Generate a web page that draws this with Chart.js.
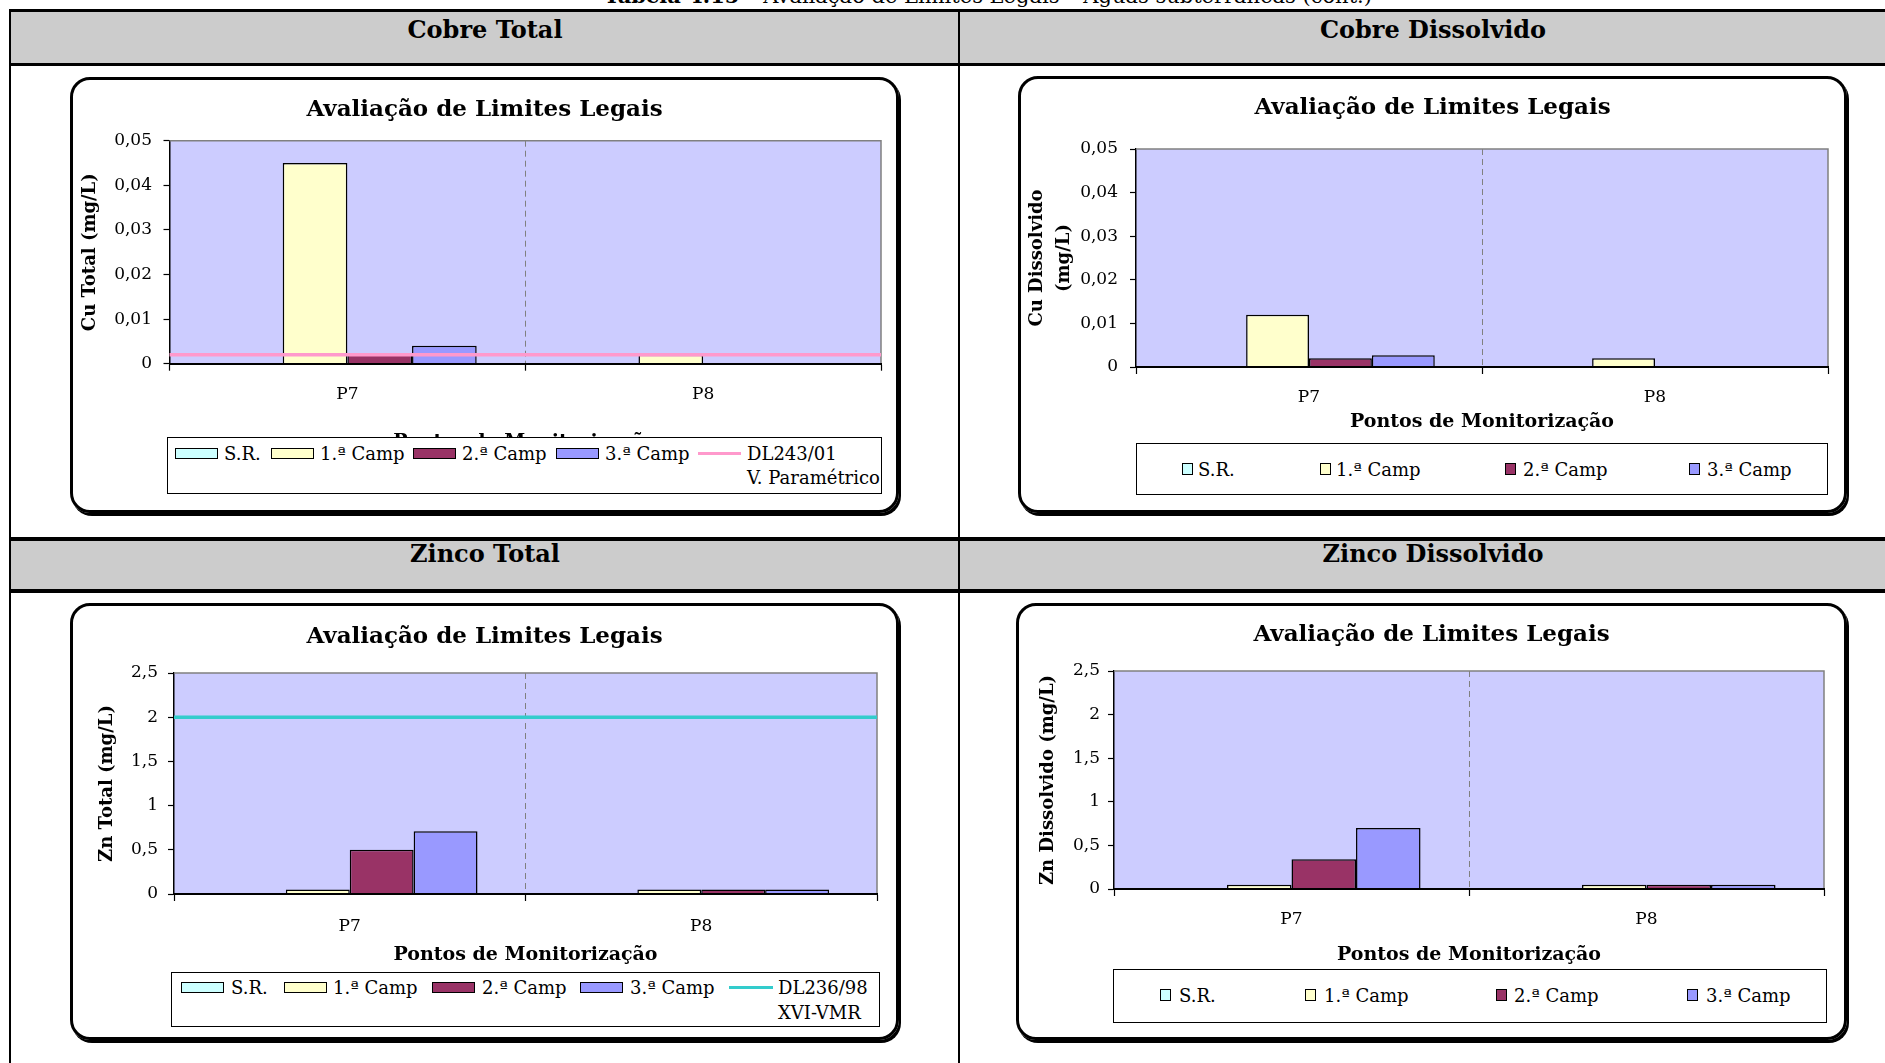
<!DOCTYPE html>
<html>
<head>
<meta charset="utf-8">
<script src="https://cdn.jsdelivr.net/npm/chart.js@4/dist/chart.umd.min.js"></script>
<style>
html,body{margin:0;padding:0;background:#fff;}
body{width:1885px;height:1063px;overflow:hidden;position:relative;font-family:"DejaVu Serif",serif;color:#000;}
.r{position:absolute;}
.blk{position:absolute;background:#000;}
.band{position:absolute;background:#cccccc;}
.hdr{position:absolute;font-weight:bold;font-size:24px;line-height:29px;white-space:nowrap;transform:translateX(-50%);}
.box{position:absolute;border:3px solid #000;border-radius:20px;box-shadow:2px 3px 0 #000;box-sizing:border-box;z-index:5;}
.legend{position:absolute;background:#fff;border:1px solid #000;box-sizing:border-box;font-size:18px;line-height:21px;z-index:4;overflow:hidden;}
.legend span{position:absolute;white-space:nowrap;}
.sw{position:absolute;box-sizing:border-box;border:1.5px solid #000;}
canvas{position:absolute;z-index:3;}
</style>
</head>
<body>
<div class="r" style="left:988px;top:-17px;transform:translateX(-50%);font-size:21px;line-height:25px;white-space:nowrap;"><b>Tabela 4.15</b> – Avaliação de Limites Legais – Águas subterrâneas (cont.)</div>

<!-- table -->
<div class="band" style="left:10px;top:12px;width:1875px;height:51px;"></div>
<div class="band" style="left:10px;top:541px;width:1875px;height:48px;"></div>
<div class="blk" style="left:9px;top:9px;width:1876px;height:3px;"></div>
<div class="blk" style="left:9px;top:63px;width:1876px;height:3px;"></div>
<div class="blk" style="left:9px;top:537px;width:1876px;height:4px;"></div>
<div class="blk" style="left:9px;top:589px;width:1876px;height:4px;"></div>
<div class="blk" style="left:9px;top:9px;width:2px;height:1054px;"></div>
<div class="blk" style="left:958px;top:9px;width:2px;height:1054px;"></div>

<div class="hdr" style="left:485px;top:15px;">Cobre Total</div>
<div class="hdr" style="left:1433px;top:15px;">Cobre Dissolvido</div>
<div class="hdr" style="left:485px;top:539px;">Zinco Total</div>
<div class="hdr" style="left:1433px;top:539px;">Zinco Dissolvido</div>

<script>
// ---------------- DATA ----------------
const categories = ['P7', 'P8'];
const seriesLabels = ['S.R.', '1.ª Camp', '2.ª Camp', '3.ª Camp'];

const cuTotalSR    = [null, null];
const cuTotalCamp1 = [0.045, 0.002];
const cuTotalCamp2 = [0.0023, null];
const cuTotalCamp3 = [0.004, null];
const cuTotalLimitValue = 0.002;
const cuTotalLimitLabel = ['DL243/01', 'V. Paramétrico'];

const cuDissSR    = [null, null];
const cuDissCamp1 = [0.012, 0.002];
const cuDissCamp2 = [0.002, null];
const cuDissCamp3 = [0.0027, null];

const znTotalSR    = [null, null];
const znTotalCamp1 = [0.05, 0.05];
const znTotalCamp2 = [0.5, 0.05];
const znTotalCamp3 = [0.71, 0.05];
const znTotalLimitValue = 2;
const znTotalLimitLabel = ['DL236/98', 'XVI-VMR'];

const znDissSR    = [null, null];
const znDissCamp1 = [0.05, 0.05];
const znDissCamp2 = [0.34, 0.05];
const znDissCamp3 = [0.70, 0.05];

const cuTickValues = [0, 0.01, 0.02, 0.03, 0.04, 0.05];
const znTickValues = [0, 0.5, 1, 1.5, 2, 2.5];

const chartTitle = 'Avaliação de Limites Legais';
const xAxisTitle = 'Pontos de Monitorização';

// ---------------- STYLE / LAYOUT ----------------
const seriesColors = ['#CCFFFF', '#FFFFCC', '#993366', '#9999FF'];
const FONT = 'DejaVu Serif';
Chart.defaults.font.family = FONT;
Chart.defaults.color = '#000';

const layouts = {
  cuTotal: {box:[70,77,899,513], plot:[169.5,140.7,881,363.7], titleY:110, yTitleX:90, yTitleLH:21.6, yLabelRight:152, xLabelY:395, xTitleY:442,
    legend:{rect:[167,437,882,494], rows:[452.5,476], swX:[174,270,412,555], txX:[223,319,461,604], wide:true, lineX:[697,740], lineTx:746}},
  cuDiss: {box:[1018,76,1847,513], plot:[1136,149,1828,367], titleY:108, yTitleX:1037, yTitleLH:27, yLabelRight:1118, xLabelY:398, xTitleY:422,
    legend:{rect:[1136,443,1828,495], rows:[468], swX:[1181,1319,1504,1688], txX:[1197,1335,1522,1706], wide:false}},
  znTotal: {box:[70,603,899,1040], plot:[174,673,877,894], titleY:637, yTitleX:107, yTitleLH:21.6, yLabelRight:158, xLabelY:927, xTitleY:955,
    legend:{rect:[171,972,880,1027], rows:[986.5,1011], swX:[180,283,431,579], txX:[230,332,481,629], wide:true, lineX:[728,772], lineTx:777}},
  znDiss: {box:[1016,603,1847,1040], plot:[1114,671,1824,889], titleY:635, yTitleX:1048, yTitleLH:21.6, yLabelRight:1100, xLabelY:920, xTitleY:955,
    legend:{rect:[1113,969,1827,1023], rows:[994], swX:[1159,1304,1495,1686], txX:[1178,1323,1513,1705], wide:false}}
};

const plotDeco = {
  id: 'plotDeco',
  beforeDraw(chart) {
    const {ctx, chartArea: a} = chart;
    ctx.save();
    ctx.fillStyle = '#CCCCFF';
    ctx.fillRect(a.left, a.top, a.right - a.left, a.bottom - a.top);
    ctx.restore();
  },
  beforeDatasetsDraw(chart) {
    const {ctx, chartArea: a} = chart;
    ctx.save();
    ctx.strokeStyle = '#808080';
    ctx.lineWidth = 1.5;
    ctx.beginPath();
    ctx.moveTo(a.left, a.top);
    ctx.lineTo(a.right, a.top);
    ctx.lineTo(a.right, a.bottom);
    ctx.stroke();
    ctx.restore();
  }
};

// horizontal legal-limit line placed with the chart's own y scale
const limitLine = {
  id: 'limitLine',
  afterDatasetsDraw(chart, args, opts) {
    if (opts == null || opts.value == null) return;
    const {ctx, chartArea: a} = chart;
    const y = chart.scales.y.getPixelForValue(opts.value);
    ctx.save();
    ctx.strokeStyle = opts.color;
    ctx.lineWidth = 3.5;
    ctx.beginPath();
    ctx.moveTo(a.left, y);
    ctx.lineTo(a.right, y);
    ctx.stroke();
    ctx.restore();
  }
};

function fmt(v) { return String(+Number(v).toFixed(4)).replace('.', ','); }

function buildChart(L, spec) {
  const [bx0, by0, bx1, by1] = L.box;
  const W = bx1 - bx0, H = by1 - by0;
  const [px0, py0, px1, py1] = L.plot;
  const cv = document.createElement('canvas');
  cv.width = W; cv.height = H;
  cv.style.left = bx0 + 'px'; cv.style.top = by0 + 'px';
  cv.style.width = W + 'px'; cv.style.height = H + 'px';
  document.body.appendChild(cv);

  const padRight = bx1 - px1;
  const padLeft = padRight;               // symmetric so the title is centred on the frame
  const titleSize = 23, titleLH = titleSize * 1.2;
  const titlePadTop = L.titleY - by0 - titleLH / 2;
  const titlePadBottom = (py0 - by0) - titlePadTop - titleLH;
  const yTitlePad = L.yTitleX - (bx0 + padLeft) - L.yTitleLH / 2;
  const yWidth = px0 - bx0 - padLeft;
  const tickSize = 17, tickLH = tickSize * 1.2;
  const xTickLen = 7, yTickLen = 6;
  const xTickPad = (L.xLabelY - py1) - xTickLen - tickLH / 2;
  const yTickPad = (px0 - L.yLabelRight) - yTickLen;
  const xTitleSize = 19, xTitleLH = xTitleSize * 1.2;
  const axisBottom = L.xTitleY - by0 + xTitleLH / 2;
  const xHeight = axisBottom - (py1 - by0);
  const padBottom = H - axisBottom;

  const datasets = spec.bars.map((vals, i) => ({
    type: 'bar', label: seriesLabels[i], data: vals,
    backgroundColor: seriesColors[i], borderColor: '#000', borderWidth: 1.5,
    categoryPercentage: 0.727, barPercentage: 1
  }));
  const scales = {
    x: {
      type: 'category', offset: true,
      grid: {offset: true, drawOnChartArea: true, color: c => c.index === 1 ? '#808080' : 'rgba(0,0,0,0)',
             lineWidth: 1, tickColor: '#000', tickLength: xTickLen, tickWidth: 1.2, tickBorderDash: []},
      border: {display: true, color: '#000', width: 2, dash: [6, 4], z: 1},
      ticks: {font: {size: tickSize}, padding: xTickPad, color: '#000', maxRotation: 0},
      title: {display: true, text: xAxisTitle, font: {size: xTitleSize, weight: 'bold'}, padding: {top: 0, bottom: 0}, color: '#000'},
      afterFit: s => { s.height = xHeight; }
    },
    y: {
      min: 0, max: spec.ticks[spec.ticks.length - 1],
      grid: {drawOnChartArea: false, drawTicks: true, tickLength: yTickLen, tickColor: '#000', tickWidth: 1.2},
      border: {display: true, color: '#000', width: 1.5},
      afterBuildTicks: s => { s.ticks = spec.ticks.map(v => ({value: v})); },
      ticks: {font: {size: tickSize}, padding: yTickPad, color: '#000', callback: v => fmt(v)},
      title: {display: true, text: spec.yTitle, font: {size: 18, weight: 'bold', lineHeight: L.yTitleLH / 18},
              padding: {top: yTitlePad, bottom: 0}, color: '#000'},
      afterFit: s => { s.width = yWidth; }
    }
  };

  new Chart(cv.getContext('2d'), {
    type: 'bar',
    data: {labels: categories, datasets},
    options: {
      responsive: false, animation: false, devicePixelRatio: 1,
      layout: {padding: {left: padLeft, top: 0, right: padRight, bottom: padBottom}},
      plugins: {
        legend: {display: false}, tooltip: {enabled: false},
        title: {display: true, text: chartTitle, color: '#000',
                font: {size: titleSize, weight: 'bold', lineHeight: 1.2},
                padding: {top: titlePadTop, bottom: titlePadBottom}},
        limitLine: spec.limit ? {value: spec.limit.value, color: spec.limit.color} : {value: null}
      },
      scales
    },
    plugins: [plotDeco, limitLine]
  });

  // framed rounded box
  const bx = document.createElement('div');
  bx.className = 'box';
  bx.style.cssText = `left:${bx0}px;top:${by0}px;width:${W}px;height:${H}px;`;
  document.body.appendChild(bx);

  // legend (built from the series labels / colours)
  const LG = L.legend;
  const [lx0, ly0, lx1, ly1] = LG.rect;
  const lg = document.createElement('div');
  lg.className = 'legend';
  lg.style.cssText = `left:${lx0}px;top:${ly0}px;width:${lx1 - lx0}px;height:${ly1 - ly0}px;`;
  const row0 = LG.rows[0] - ly0;
  seriesLabels.forEach((lab, i) => {
    const sw = document.createElement('div');
    sw.className = 'sw';
    const w = LG.wide ? 43 : 11, h = LG.wide ? 11 : 12;
    sw.style.cssText = `left:${LG.swX[i] - lx0}px;top:${row0 - h / 2}px;width:${w}px;height:${h}px;background:${seriesColors[i]};`;
    lg.appendChild(sw);
    const t = document.createElement('span');
    t.textContent = lab;
    t.style.left = (LG.txX[i] - lx0) + 'px';
    t.style.top = (row0 - 10.5) + 'px';
    lg.appendChild(t);
  });
  if (spec.limit) {
    const ln = document.createElement('div');
    ln.style.cssText = `position:absolute;left:${LG.lineX[0] - lx0}px;top:${row0 - 1.5}px;width:${LG.lineX[1] - LG.lineX[0]}px;height:3px;background:${spec.limit.color};`;
    lg.appendChild(ln);
    spec.limit.label.forEach((txt, k) => {
      const t = document.createElement('span');
      t.textContent = txt;
      t.style.left = (LG.lineTx - lx0) + 'px';
      t.style.top = (LG.rows[k] - ly0 - 10.5) + 'px';
      lg.appendChild(t);
    });
  }
  document.body.appendChild(lg);
}

buildChart(layouts.cuTotal, {
  bars: [cuTotalSR, cuTotalCamp1, cuTotalCamp2, cuTotalCamp3], ticks: cuTickValues,
  yTitle: 'Cu Total (mg/L)',
  limit: {value: cuTotalLimitValue, label: cuTotalLimitLabel, color: '#FF99CC'}
});
buildChart(layouts.cuDiss, {
  bars: [cuDissSR, cuDissCamp1, cuDissCamp2, cuDissCamp3], ticks: cuTickValues,
  yTitle: ['Cu Dissolvido', '(mg/L)']
});
buildChart(layouts.znTotal, {
  bars: [znTotalSR, znTotalCamp1, znTotalCamp2, znTotalCamp3], ticks: znTickValues,
  yTitle: 'Zn Total (mg/L)',
  limit: {value: znTotalLimitValue, label: znTotalLimitLabel, color: '#33CCCC'}
});
buildChart(layouts.znDiss, {
  bars: [znDissSR, znDissCamp1, znDissCamp2, znDissCamp3], ticks: znTickValues,
  yTitle: 'Zn Dissolvido (mg/L)'
});
</script>
</body>
</html>
